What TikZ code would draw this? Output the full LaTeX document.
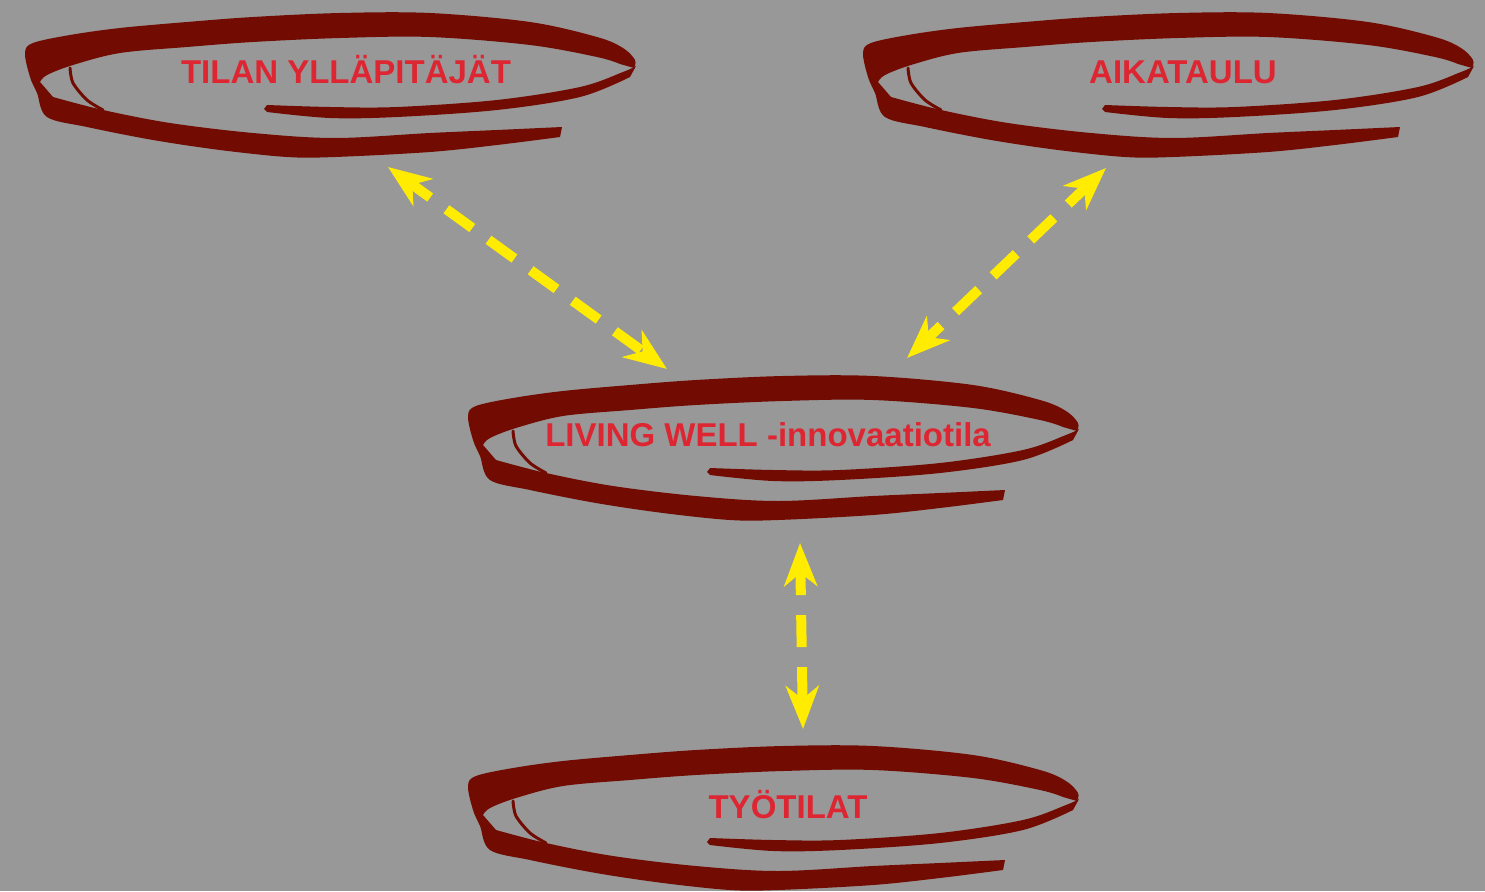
\documentclass[tikz,border=0pt]{standalone}
\usepackage{fontspec}
\setmainfont{Liberation Sans}
\usetikzlibrary{arrows.meta}

\definecolor{board}{RGB}{152,152,152}
\definecolor{brush}{RGB}{114,12,2}
\definecolor{labelred}{RGB}{222,38,50}
\definecolor{marker}{RGB}{255,236,0}

\tikzset{
  brushfill/.style={fill=brush},
  % hand-drawn loop around a label, local units are pixels (y down)
  scribble/.pic={
    % bottom stroke, left bend and upper stroke as one band
    \fill[brushfill]
      plot[smooth, tension=0.55] coordinates
        {(538,125) (475,133) (408,140) (313,145) (265,145) (198,138) (131,128)
         (65,115) (25,105) (15,81) (8,65) (3,41) (11,31) (48,23) (98,16)
         (165,10) (231,5) (318,1) (408,1) (508,10) (575,25) (601,36) (613,48) (612,56)}
      -- plot[smooth, tension=0.55] coordinates
        {(598,52) (575,45) (508,33) (408,25) (318,26) (231,30) (165,35) (98,41)
         (51,53) (25,63) (18,70)}
      -- plot[smooth, tension=0.55] coordinates
        {(31,85) (81,98) (148,111) (231,121) (313,126) (408,121) (475,118) (540,115)}
      -- cycle;
    % return stroke into the inside
    \fill[brushfill]
      plot[smooth, tension=0.55] coordinates
        {(614,54) (601,60) (558,75) (475,88) (375,95) (308,95) (245,93)}
      -- (242,97) --
      plot[smooth, tension=0.55] coordinates
        {(245,100) (308,106) (375,105) (475,98) (558,85) (608,65)}
      -- cycle;
    % thin inner edge on the left
    \draw[brush, line width=3pt, line cap=round] plot[smooth] coordinates
      {(48,56) (51,71) (65,88) (81,98)};
  },
  lbl/.style={text=labelred, font=\fontsize{33}{40}\selectfont\bfseries,
              inner sep=0pt, anchor=base},
  conn/.style={draw=marker, line width=10pt,
               dash pattern=on 32pt off 20pt, dash phase=7pt,
               {Stealth[length=43pt, width=33pt, inset=13pt]}-{Stealth[length=43pt, width=33pt, inset=13pt]}},
}

\begin{document}
\begin{tikzpicture}[x=1pt, y=-1pt]
  \fill[board] (0,0) rectangle (1485,891);
  \useasboundingbox (0,0) rectangle (1485,891);

  % loops
  \pic at (22,12) {scribble};
  \pic at (860,12) {scribble};
  \pic at (465,375) {scribble};
  \pic at (465,745) {scribble};

  % labels
  \node[lbl] (tilan)  at (346,84)  {TILAN YLLÄPITÄJÄT};
  \node[lbl] (aika)   at (1183,84) {AIKATAULU};
  \node[lbl] (living) at (768,446) {LIVING WELL -innovaatiotila};
  \node[lbl] (tyo)    at (788,818) {TYÖTILAT};

  % arrow end points
  \coordinate (tilanlow)  at (388,167);
  \coordinate (livingnw)  at (667,369);
  \coordinate (aikalow)   at (1106,168);
  \coordinate (livingne)  at (907,358);
  \coordinate (livinglow) at (800,543);
  \coordinate (tyotop)    at (803,729);

  % connectors
  \draw[conn] (tilanlow) -- (livingnw);
  \draw[conn] (aikalow) -- (livingne);
  \draw[conn] (livinglow) -- (tyotop);
\end{tikzpicture}
\end{document}
